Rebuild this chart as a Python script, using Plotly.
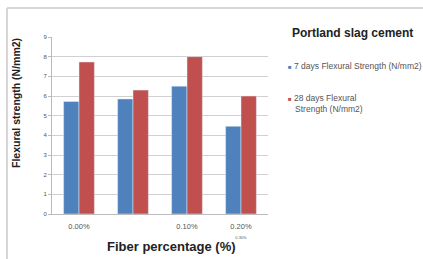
import plotly.graph_objects as go

categories = ["0.00%", "0.05%", "0.10%", "0.20%"]
tick_labels = ["0.00%", "", "0.10%", "0.20%<br><span style='font-size:4px'>0.30%</span>"]
days7 = [5.72, 5.85, 6.5, 4.46]
days28 = [7.73, 6.3, 8.0, 6.0]
series_names = ["7 days Flexural Strength (N/mm2)", "28 days Flexural<br>Strength (N/mm2)"]
y_ticks = [0, 1, 2, 3, 4, 5, 6, 7, 8, 9]

BLUE = "#4F81BD"
RED = "#C0504D"
FONT = "Liberation Sans, Arial, sans-serif"

fig = go.Figure()
fig.add_trace(go.Bar(x=categories, y=days7, name=series_names[0], marker_color=BLUE))
fig.add_trace(go.Bar(x=categories, y=days28, name=series_names[1], marker_color=RED))

W, H = 423, 259
L, R, T, B = 52, 155, 37, 45
pw, ph = W - L - R, H - T - B

def px(x):
    return (x - L) / pw

def py(y):
    return (H - B - y) / ph

annotations = [
    dict(text="<b>Portland slag cement</b>", x=px(352), y=py(33), xref="paper", yref="paper",
         showarrow=False, font=dict(size=12, color="#222", family=FONT), xanchor="center", yanchor="middle"),
    dict(text="<span style='color:%s;font-size:6px'>■</span> %s" % (BLUE, series_names[0]), x=px(286), y=py(66),
         xref="paper", yref="paper", showarrow=False, align="left",
         font=dict(size=8.5, color="#555", family=FONT), xanchor="left", yanchor="middle"),
    dict(text="<span style='color:%s;font-size:6px'>■</span> %s" % (RED, series_names[1].replace("<br>", "<br>   ")),
         x=px(286), y=py(104), xref="paper", yref="paper", showarrow=False, align="left",
         font=dict(size=8.5, color="#555", family=FONT), xanchor="left", yanchor="middle"),
    dict(text="<b>Fiber percentage (%)</b>", x=px(171), y=py(246), xref="paper", yref="paper",
         showarrow=False, font=dict(size=13, color="#222", family=FONT), xanchor="center", yanchor="middle"),
    dict(text="<b>Flexural strength (N/mm2)</b>", x=px(16), y=py(103), xref="paper", yref="paper",
         showarrow=False, textangle=-90, font=dict(size=10.5, color="#222", family=FONT),
         xanchor="center", yanchor="middle"),
]

shapes = [
    dict(type="line", xref="paper", yref="paper", x0=px(7), x1=px(423), y0=py(8), y1=py(8),
         line=dict(color="#c8c8c8", width=1.5)),
    dict(type="line", xref="paper", yref="paper", x0=px(7), x1=px(7), y0=py(8), y1=py(259),
         line=dict(color="#c8c8c8", width=1.5)),
]

fig.update_layout(
    width=W, height=H,
    margin=dict(l=L, r=R, t=T, b=B, autoexpand=False),
    paper_bgcolor="white", plot_bgcolor="white",
    barmode="group", bargap=0.43, bargroupgap=0,
    showlegend=False,
    font=dict(family=FONT, size=6, color="#555"),
    annotations=annotations, shapes=shapes,
    xaxis=dict(tickmode="array", tickvals=categories, ticktext=tick_labels, automargin=False,
               showline=True, linecolor="#bbb", ticks="", tickfont=dict(size=7.5, color="#555"),
               ticklabelstandoff=5, showgrid=False),
    yaxis=dict(range=[0, 9], tickvals=y_ticks, showgrid=True, gridcolor="#d0d0d0", automargin=False,
               showline=True, linecolor="#bbb", ticks="outside", ticklen=3, tickcolor="#bbb",
               tickfont=dict(size=6, color="#555"), zeroline=False),
)

fig.write_html("out.html", post_script="document.body.style.margin='0';",
               config={"displayModeBar": False})
